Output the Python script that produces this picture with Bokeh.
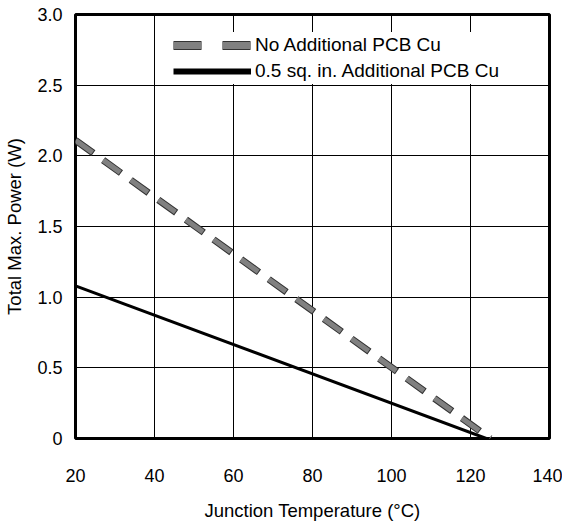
from bokeh.plotting import figure
from bokeh.models import Range1d, FixedTicker, Legend, LegendItem, PrintfTickFormatter
from bokeh.embed import file_html
from bokeh.resources import INLINE

# Data
temp_no_cu = [20, 125]
power_no_cu = [2.11, 0.0]
temp_cu = [20, 124]
power_cu = [1.08, 0.0]

x_ticks = [20, 40, 60, 80, 100, 120, 140]
y_ticks = [0, 0.5, 1.0, 1.5, 2.0, 2.5, 3.0]
series_labels = ["No Additional PCB Cu", "0.5 sq. in. Additional PCB Cu"]
x_title = "Junction Temperature (°C)"
y_title = "Total Max. Power (W)"

FONT = "Liberation Sans"

p = figure(width=562, height=526, output_backend="svg", toolbar_location=None,
           x_range=Range1d(20, 140), y_range=Range1d(0, 3),
           min_border_left=75, min_border_right=13, min_border_top=14, min_border_bottom=88)

p.background_fill_color = "white"
p.border_fill_color = "white"
p.outline_line_color = "black"
p.outline_line_width = 3

# axes
for ax in (p.xaxis[0], p.yaxis[0]):
    ax.axis_line_color = None
    ax.major_tick_line_color = None
    ax.minor_tick_line_color = None
    ax.major_label_text_font = FONT
    ax.major_label_text_font_size = "18px"
    ax.major_label_text_color = "black"
    ax.axis_label_text_font = FONT
    ax.axis_label_text_font_size = "18.5px"
    ax.axis_label_text_font_style = "normal"
    ax.axis_label_text_color = "black"

p.xaxis.ticker = FixedTicker(ticks=x_ticks)
p.yaxis.ticker = FixedTicker(ticks=y_ticks)
p.yaxis.formatter = PrintfTickFormatter(format="%.1f")
p.yaxis.major_label_overrides = {0: "0"}
p.xaxis.axis_label = x_title
p.yaxis.axis_label = y_title
p.xaxis.major_label_standoff = 24
p.xaxis.axis_label_standoff = 15
p.yaxis.major_label_standoff = 7
p.yaxis.axis_label_standoff = 9

p.xgrid.ticker = FixedTicker(ticks=x_ticks)
p.ygrid.ticker = FixedTicker(ticks=y_ticks)
for g in (p.xgrid[0], p.ygrid[0]):
    g.grid_line_color = "black"
    g.grid_line_alpha = 1.0
    g.grid_line_width = 1

# series
p.line(temp_no_cu, power_no_cu, line_color="#333333", line_width=7,
       line_dash="22 12", line_dash_offset=0, line_cap="butt")
p.line(temp_no_cu, power_no_cu, line_color="#808080", line_width=5,
       line_dash="21 13", line_dash_offset=0, line_cap="butt")
p.line(temp_cu, power_cu, line_color="black", line_width=3)

# legend-only proxies (no data drawn)
nan = float("nan")
l1a = p.line([nan], [nan], line_color="#333333", line_width=9, line_dash="28 21", line_cap="butt")
l1b = p.line([nan], [nan], line_color="#808080", line_width=7, line_dash="28 21", line_cap="butt")
l2 = p.line([nan], [nan], line_color="black", line_width=6)

legend = Legend(items=[LegendItem(label=series_labels[0], renderers=[l1a, l1b]),
                       LegendItem(label=series_labels[1], renderers=[l2])],
                location=(98, 354))
legend.label_text_font = FONT
legend.label_text_font_size = "19px"
legend.label_text_color = "black"
legend.glyph_width = 78
legend.glyph_height = 26
legend.label_height = 26
legend.label_standoff = 4
legend.spacing = 0
legend.padding = 4
legend.margin = 0
legend.border_line_color = None
legend.background_fill_color = "white"
legend.background_fill_alpha = 1.0
p.add_layout(legend, "center")

open("out.html", "w").write(file_html(p, INLINE))
